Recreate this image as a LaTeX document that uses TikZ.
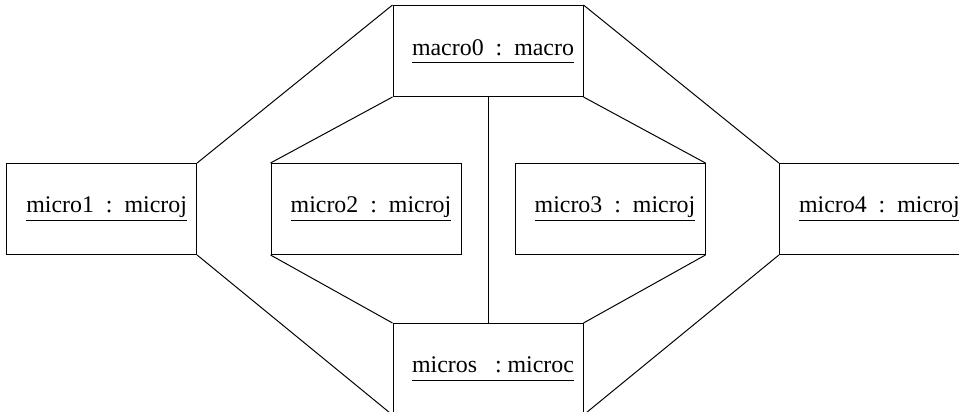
\documentclass[tikz,border=0pt]{standalone}
\usepackage{fontspec}
\setmainfont{Liberation Serif}
\usetikzlibrary{positioning}
\tikzstyle{object} = [draw, rectangle, inner sep=0pt,
    minimum height=2.275cm, minimum width=4.75cm]
\tikzstyle{input} = [coordinate]
% object names are underlined at a fixed depth, set a little right of centre
\newcommand{\objname}[1]{\hspace*{0.25cm}\underline{#1\vphantom{j}}}

\begin{document}
\begin{tikzpicture}[node distance=2cm, line width=0.7pt,
    font=\fontsize{17}{20}\selectfont]
    % the page cuts off the outer boxes
    \clip (-12.2,-9.025) rectangle (11.775,1.275);
    % We start by placing the macro object and the row of micro objects
    \node [object] (macro0) {\objname{macro0\ \ :\ \ macro}};
    \node [input, below of=macro0, node distance=3.95cm] (row) {};
    \node [object, left of=row, node distance=3.05cm] (micro2) {\objname{micro2\ \ :\ \ microj}};
    \node [object, right of=row, node distance=3.05cm] (micro3) {\objname{micro3\ \ :\ \ microj}};
    \node [object, left of=micro2, node distance=6.61cm] (micro1) {\objname{micro1\ \ :\ \ microj}};
    \node [object, right of=micro3, node distance=6.61cm] (micro4) {\objname{micro4\ \ :\ \ microj}};
    \node [object, below of=macro0, node distance=7.95cm] (micros) {\objname{micros\ \ \ :\ microc}};
    % Links run corner to corner
    \draw (macro0.north west) -- (micro1.north east);
    \draw (macro0.south west) -- (micro2.north west);
    \draw (macro0.south east) -- (micro3.north east);
    \draw (macro0.north east) -- (micro4.north west);
    \draw (micro1.south east) -- (micros.south west);
    \draw (micro2.south west) -- (micros.north west);
    \draw (micro3.south east) -- (micros.north east);
    \draw (micro4.south west) -- (micros.south east);
    \draw (macro0) -- (micros);
\end{tikzpicture}
\end{document}
